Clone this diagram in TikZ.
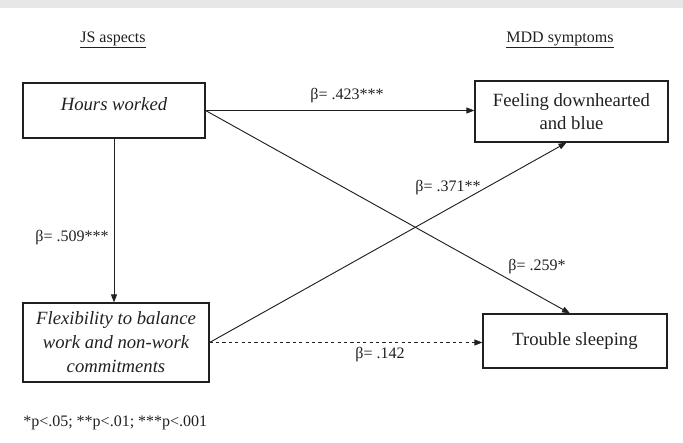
\documentclass[tikz,border=0pt]{standalone}
\usepackage{fontspec}
\setmainfont{Liberation Serif}
\usetikzlibrary{arrows.meta,calc}
\definecolor{band}{HTML}{E6E7E9}
\definecolor{ink}{HTML}{231F20}
\begin{document}
\begin{tikzpicture}[x=0.75pt,y=-0.75pt,
  box/.style={draw=ink, line width=0.9pt, inner sep=0pt, align=center,
    font=\fontsize{14}{17.5}\selectfont, text=ink},
  boxtext/.style={inner sep=0pt, align=center, font=\fontsize{14}{17.5}\selectfont\itshape, text=ink},
  lbl/.style={inner sep=0pt, font=\fontsize{12}{14}\selectfont, text=ink},
  conn/.style={draw=ink, line width=0.7pt, -{Triangle[length=6pt,width=4.5pt]}},
  dconn/.style={conn, dash pattern=on 2.4pt off 2.4pt}
]
\useasboundingbox (0,0) rectangle (683,443);
\fill[band] (0,0) rectangle (683,8);

% headers
\node[lbl] (hjs) at (113,40) {\underline{JS aspects}};
\node[lbl] (hmdd) at (560,40) {\underline{MDD symptoms}};

% boxes
\node[box, minimum width=136.5pt, minimum height=41.25pt] (hw) at (114,110.5) {};
\node[boxtext] (hwt) at (114,104) {Hours worked};
\node[box, minimum width=144.75pt, minimum height=45.75pt] (fd) at (571.5,111.5) {Feeling downhearted\\and blue};
\node[box, minimum width=139.5pt, minimum height=59.25pt, font=\fontsize{14}{18}\selectfont\itshape] (fx) at (116,342.5) {Flexibility to balance\\work and non-work\\commitments};
\node[box, minimum width=138pt, minimum height=40.5pt] (ts) at (575,341) {Trouble sleeping};

% connectors
\draw[conn] (hw.east) -- (fd.west |- hw.east);
\draw[conn] (hw.east) -- ($(ts.north)+(-5,0)$);
\draw[conn] (hw.south) -- (hw.south |- fx.north);
\draw[conn] (fx.east) -- ($(fd.south)+(-5,0)$);
\draw[dconn] (fx.east) -- (ts.west |- fx.east);

% coefficient labels
\node[lbl] (b423) at (347,96) {β= .423***};
\node[lbl] (b509) at (72,238) {β= .509***};
\node[lbl] (b371) at (448,188) {β= .371**};
\node[lbl] (b259) at (537,267) {β= .259*};
\node[lbl] (b142) at (380,355) {β= .142};

% footnote
\node[lbl, anchor=west] (note) at (23,423) {*p<.05; **p<.01; ***p<.001};
\end{tikzpicture}
\end{document}
